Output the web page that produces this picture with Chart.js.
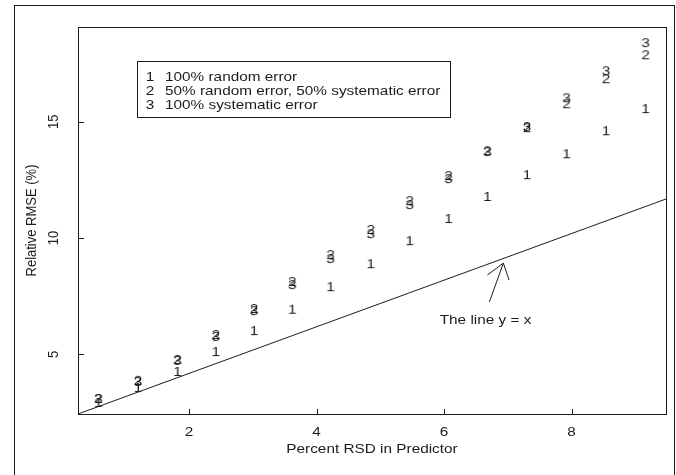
<!DOCTYPE html>
<html>
<head>
<meta charset="utf-8">
<title>Relative RMSE vs Percent RSD</title>
<script src="https://cdn.jsdelivr.net/npm/chart.js@4.4.1/dist/chart.umd.min.js"></script>
<style>
  html, body { margin: 0; padding: 0; background: #fff; }
  #wrap { width: 676px; height: 475px; }
</style>
</head>
<body>
<div id="wrap"><canvas id="rmseChart" width="676" height="475"></canvas></div>
<script>
// data
const rsd = [0.58, 1.2, 1.82, 2.42, 3.02, 3.62, 4.22, 4.85, 5.46, 6.07, 6.68, 7.3, 7.92, 8.54, 9.16];
const randomErr = [2.95, 3.59, 4.28, 5.14, 6.04, 6.96, 7.93, 8.92, 9.91, 10.86, 11.81, 12.75, 13.65, 14.64, 15.59];
const mixedErr = [3.12, 3.9, 4.8, 5.87, 6.99, 8.15, 9.31, 10.39, 11.63, 12.71, 13.78, 14.77, 15.8, 16.88, 17.91];
const systematicErr = [3.12, 3.85, 4.76, 5.79, 6.9, 8.02, 9.14, 10.21, 11.46, 12.58, 13.74, 14.82, 16.06, 17.22, 18.43];

const seriesNames = ['100% random error', '50% random error, 50% systematic error', '100% systematic error'];
const seriesSymbols = ['1', '2', '3'];

const xTicks = [2, 4, 6, 8];
const yTicks = [5, 10, 15];
const xRange = [0.26, 9.48];
const yRange = [2.43, 19.08];

// reference line and its arrow label
const refLineX = [0.26, 9.48];
const refLineY = [2.43, 11.68];
const arrowShaftX = [6.71, 6.93];
const arrowShaftY = [7.25, 8.92];
const arrowHeadX = [6.68, 6.93, 7.02];
const arrowHeadY = [8.41, 8.92, 8.19];
const noteText = 'The line y = x';
const notePos = [6.65, 6.47];

const xTitle = 'Percent RSD in Predictor';
const yTitle = 'Relative RMSE (%)';

const INK = '#1c1c1c';
const FONT = '13px "Liberation Sans", Arial, sans-serif';
const STRETCH = 1.18; // source image is a bit wider than tall

const toXY = (xs, ys) => xs.map((x, i) => ({ x, y: ys[i] }));

// draw a digit into a small canvas to use as a point style (like R's pch = "1")
const makeSymbol = (ch) => {
  const c = document.createElement('canvas');
  c.width = 16;
  c.height = 16;
  const g = c.getContext('2d');
  g.fillStyle = INK;
  g.font = FONT;
  g.textAlign = 'center';
  g.textBaseline = 'alphabetic';
  g.translate(8, 0);
  g.scale(STRETCH, 1);
  g.fillText(ch, 0, 12.7);
  return c;
};

const drawText = (ctx, text, x, y, align, rotate) => {
  ctx.save();
  ctx.translate(x, y);
  ctx.scale(STRETCH, 1);
  if (rotate) ctx.rotate(-Math.PI / 2);
  ctx.textAlign = align;
  ctx.textBaseline = 'middle';
  ctx.fillText(text, 0, 0);
  ctx.restore();
};

// base-graphics style frame: box, inward ticks, labels, legend
const rFrame = {
  id: 'rFrame',
  afterDraw(chart) {
    const { ctx, chartArea: a, scales } = chart;
    const xs = scales.x, ys = scales.y;
    ctx.save();
    ctx.strokeStyle = INK;
    ctx.fillStyle = INK;
    ctx.lineWidth = 1;
    ctx.font = FONT;

    // outer figure border
    ctx.strokeRect(14.5, 5.5, 660, 480);

    // plot box
    ctx.strokeRect(Math.round(a.left) + 0.5, Math.round(a.top) + 0.5,
      Math.round(a.right - a.left), Math.round(a.bottom - a.top));

    // ticks (inward) and labels
    ctx.beginPath();
    xTicks.forEach(v => {
      const px = Math.round(xs.getPixelForValue(v)) + 0.5;
      ctx.moveTo(px, a.bottom);
      ctx.lineTo(px, a.bottom - 5);
    });
    yTicks.forEach(v => {
      const py = Math.round(ys.getPixelForValue(v)) + 0.5;
      ctx.moveTo(a.left, py);
      ctx.lineTo(a.left + 6, py);
    });
    ctx.stroke();

    xTicks.forEach(v => drawText(ctx, String(v), xs.getPixelForValue(v), a.bottom + 18, 'center'));
    yTicks.forEach(v => drawText(ctx, String(v), a.left - 24, ys.getPixelForValue(v), 'center', true));

    // axis titles
    drawText(ctx, xTitle, (a.left + a.right) / 2, a.bottom + 35, 'center');
    drawText(ctx, yTitle, a.left - 46, (a.top + a.bottom) / 2, 'center', true);

    // note under the arrow
    drawText(ctx, noteText, xs.getPixelForValue(notePos[0]), ys.getPixelForValue(notePos[1]), 'center');

    // legend box
    const lx = Math.round(a.left) + 59, ly = Math.round(a.top) + 34;
    ctx.strokeRect(lx + 0.5, ly + 0.5, 313, 56);
    seriesNames.forEach((name, i) => {
      const ry = ly + 16 + i * 14;
      drawText(ctx, seriesSymbols[i], lx + 13, ry, 'center');
      drawText(ctx, name, lx + 28, ry, 'left');
    });
    ctx.restore();
  }
};

const lineSet = (data, order) => ({
  type: 'line',
  data,
  showLine: true,
  borderColor: INK,
  borderWidth: 1,
  pointRadius: 0,
  fill: false,
  order
});

const pointSet = (label, ys, sym, order) => ({
  label,
  data: toXY(rsd, ys),
  pointStyle: makeSymbol(sym),
  pointRadius: 4,
  showLine: false,
  order
});

new Chart(document.getElementById('rmseChart'), {
  type: 'scatter',
  data: {
    datasets: [
      pointSet(seriesNames[0], randomErr, seriesSymbols[0], 2),
      pointSet(seriesNames[1], mixedErr, seriesSymbols[1], 1),
      pointSet(seriesNames[2], systematicErr, seriesSymbols[2], 0),
      lineSet(toXY(refLineX, refLineY), 3),
      lineSet(toXY(arrowShaftX, arrowShaftY), 3),
      lineSet(toXY(arrowHeadX, arrowHeadY), 3)
    ]
  },
  options: {
    responsive: false,
    animation: false,
    events: [],
    layout: { padding: { left: 78, top: 27, right: 10, bottom: 61 } },
    plugins: {
      legend: { display: false },
      tooltip: { enabled: false }
    },
    scales: {
      x: { type: 'linear', min: xRange[0], max: xRange[1], display: false },
      y: { type: 'linear', min: yRange[0], max: yRange[1], display: false }
    }
  },
  plugins: [rFrame]
});
</script>
</body>
</html>
